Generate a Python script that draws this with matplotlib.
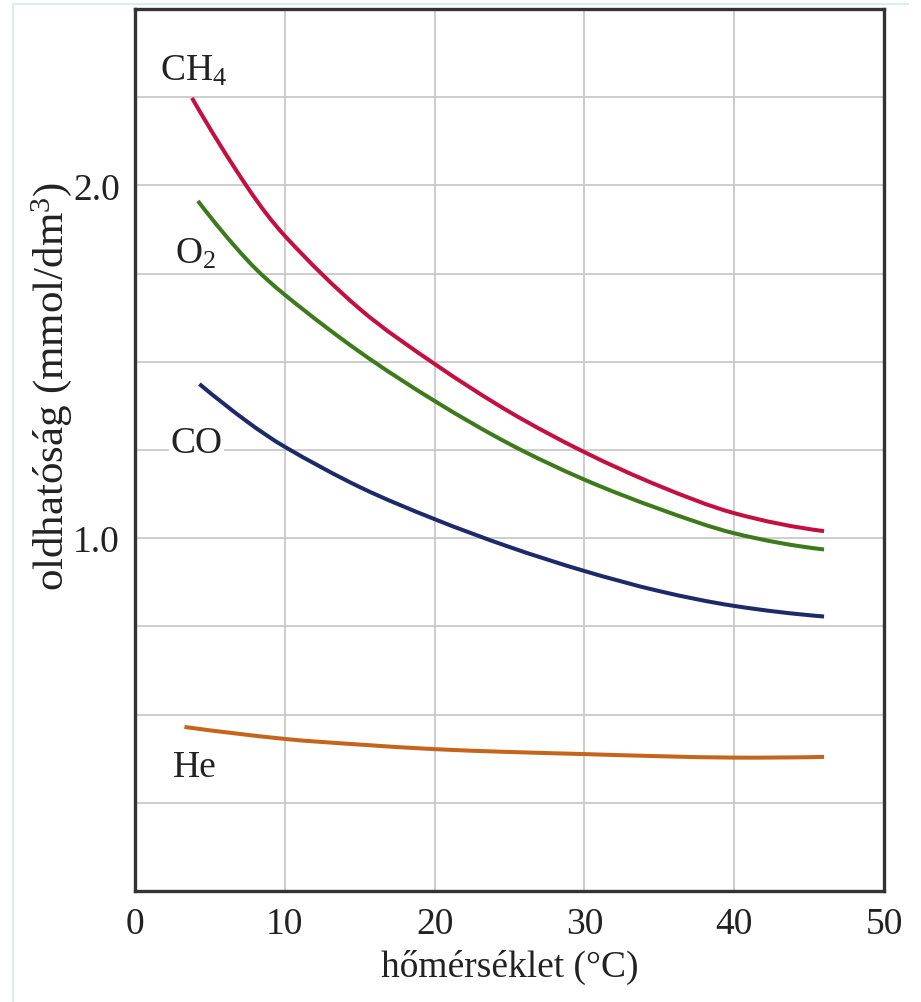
import matplotlib
matplotlib.use("Agg")
import matplotlib.pyplot as plt
from matplotlib.lines import Line2D
from matplotlib.path import Path
from matplotlib.patches import PathPatch

plt.rcParams["font.family"] = ["Liberation Serif", "DejaVu Serif"]
plt.rcParams["mathtext.fontset"] = "custom"
plt.rcParams["mathtext.rm"] = "Liberation Serif"
plt.rcParams["mathtext.it"] = "Liberation Serif:italic"

# Adatok (hőmérséklet °C, oldhatóság mmol/dm3)
t_ch4 = [3.8, 7.5, 10, 15, 20, 25, 30, 35, 40, 46]
ch4 = [2.248, 1.995, 1.857, 1.650, 1.494, 1.358, 1.244, 1.148, 1.071, 1.020]

t_o2 = [4.2, 7.5, 10, 15, 20, 25, 30, 35, 40, 46]
o2 = [1.956, 1.788, 1.690, 1.528, 1.389, 1.267, 1.166, 1.083, 1.014, 0.968]

t_co = [4.3, 7.5, 10, 15, 20, 25, 30, 35, 40, 46]
co = [1.437, 1.330, 1.259, 1.145, 1.054, 0.975, 0.907, 0.850, 0.808, 0.778]

t_he = [3.3, 10, 15, 20, 25, 30, 35, 40, 46]
he = [0.465, 0.431, 0.415, 0.402, 0.394, 0.388, 0.382, 0.378, 0.380]

series = [
    (t_ch4, ch4, "#c41040", r"CH$_\mathrm{4}$", (1.7, 2.30)),
    (t_o2, o2, "#3d7a1c", r"O$_\mathrm{2}$", (2.7, 1.78)),
    (t_co, co, "#1d2a6a", "CO", (2.35, 1.245)),
    (t_he, he, "#c6641c", "He", (2.55, 0.326)),
]


def smooth_path(x, y):
    # sima görbe a leolvasott pontokon át (kubikus Hermite -> Bezier)
    n = len(x)
    sec = [(y[i + 1] - y[i]) / (x[i + 1] - x[i]) for i in range(n - 1)]
    m = [0.0] * n
    for i in range(1, n - 1):
        m[i] = (y[i + 1] - y[i - 1]) / (x[i + 1] - x[i - 1])
    m[0] = 2 * sec[0] - m[1]
    m[-1] = 2 * sec[-1] - m[-2]
    verts = [(x[0], y[0])]
    codes = [Path.MOVETO]
    for i in range(n - 1):
        dx = (x[i + 1] - x[i]) / 3
        verts += [(x[i] + dx, y[i] + dx * m[i]),
                  (x[i + 1] - dx, y[i + 1] - dx * m[i + 1]),
                  (x[i + 1], y[i + 1])]
        codes += [Path.CURVE4] * 3
    return Path(verts, codes)


fig = plt.figure(figsize=(9.21, 10.03), dpi=100)
ax = fig.add_axes([0.1466, 0.1107, 0.8132, 0.8793])

# halvány keret a kép szélén
fig.add_artist(Line2D([13 / 921, 13 / 921], [0, 1 - 5 / 1003], transform=fig.transFigure,
                      color="#d6eeee", lw=1.5))
fig.add_artist(Line2D([13 / 921, 908 / 921], [1 - 5 / 1003, 1 - 5 / 1003], transform=fig.transFigure,
                      color="#d6eeee", lw=1.5))

for tt, vv, col, lab, pos in series:
    ax.add_patch(PathPatch(smooth_path(tt, vv), facecolor="none", edgecolor=col, lw=2.9,
                           capstyle="butt", zorder=3))
    ax.text(pos[0], pos[1], lab, fontsize=27, color="#222222", ha="left", va="baseline",
            zorder=4, bbox=dict(facecolor="white", edgecolor="none", pad=1) if lab == "CO" else None)

ax.set_xlim(0, 50)
ax.set_ylim(0, 2.5)
ax.set_xticks([0, 10, 20, 30, 40, 50])
ax.set_yticks([0.25 * i for i in range(1, 10)])
ax.set_yticklabels(["1.0" if abs(0.25 * i - 1) < 1e-9 else "2.0" if abs(0.25 * i - 2) < 1e-9 else ""
                    for i in range(1, 10)])
ax.grid(True, color="#c9c9c9", lw=1.3, zorder=0)
ax.tick_params(length=0, labelsize=27, colors="#222222", pad=11)

for s in ax.spines.values():
    s.set_color("#333333")
    s.set_linewidth(2.4)

ax.set_xlabel("hőmérséklet (°C)", fontsize=27, color="#222222", labelpad=6)
ax.set_ylabel(r"oldhatóság (mmol/dm$^\mathrm{3}$)", fontsize=31, color="#222222")
ax.yaxis.set_label_coords(-0.082, 0.573)

fig.savefig("out.png", dpi=100, facecolor="white")
